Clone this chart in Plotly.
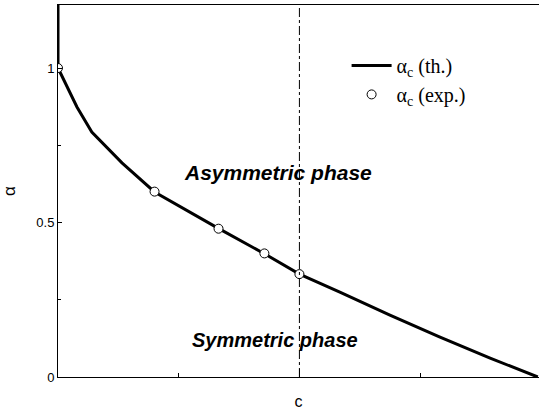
import plotly.graph_objects as go

# ---------------------------------------------------------------------------
# Data
# ---------------------------------------------------------------------------

# theoretical critical line alpha_c(c)
c_theory = [0.0, 0.0, 0.157, 0.28, 0.53, 0.80, 1.325, 1.714, 2.0, 2.335, 2.75, 3.16, 3.58, 3.975]
alpha_theory = [1.21, 1.0, 0.874, 0.793, 0.693, 0.599, 0.482, 0.398, 0.333, 0.275, 0.20, 0.13, 0.061, 0.0]

# experimental points
c_exp = [0.0, 0.80, 1.33, 1.71, 2.0]
alpha_exp = [1.0, 0.60, 0.48, 0.40, 0.333]

# position of the dash-dot transition line
c_transition = 2.0

FONT = "Liberation Sans, Arial, Helvetica, sans-serif"
SERIF = "Liberation Serif, Times New Roman, serif"

fig = go.Figure()

fig.add_trace(go.Scatter(
    x=c_theory, y=alpha_theory,
    mode="lines",
    name="α<sub>c</sub> (th.)",
    line=dict(color="black", width=3),
))

fig.add_trace(go.Scatter(
    x=c_exp, y=alpha_exp,
    mode="markers",
    name="α<sub>c</sub> (exp.)",
    marker=dict(symbol="circle", size=9, color="white",
                line=dict(color="black", width=1)),
))

# vertical dash-dot line
fig.add_shape(
    type="line", xref="x", yref="paper",
    x0=c_transition, x1=c_transition, y0=0, y1=1,
    line=dict(color="black", width=1, dash="dashdot"),
)

# phase labels
fig.add_annotation(x=1.82, y=0.663, text="<b><i>Asymmetric phase</i></b>",
                   showarrow=False, font=dict(size=21, family=FONT, color="black"))
fig.add_annotation(x=1.80, y=0.12, text="<b><i>Symmetric phase</i></b>",
                   showarrow=False, font=dict(size=20, family=FONT, color="black"))

# ---------------------------------------------------------------------------
# Layout
# ---------------------------------------------------------------------------

fig.update_layout(
    width=539, height=419,
    margin=dict(l=58, r=0, t=5, b=42),
    plot_bgcolor="white",
    paper_bgcolor="white",
    font=dict(family=FONT, size=13, color="black"),
    legend=dict(
        x=0.60, y=0.89, xanchor="left", yanchor="top",
        font=dict(family=SERIF, size=20, color="black"),
        bgcolor="rgba(0,0,0,0)",
        itemwidth=40,
    ),
)

fig.update_xaxes(
    range=[0, 3.985],
    showgrid=False, zeroline=False,
    showline=True, linecolor="black", linewidth=1, mirror=True,
    showticklabels=False,
    ticks="inside", tickvals=[2], ticklen=8, tickcolor="black",
    minor=dict(tickvals=[1, 3], ticks="inside", ticklen=4, tickcolor="black"),
    title=dict(text="c", font=dict(size=16, family=FONT), standoff=18),
)

fig.update_yaxes(
    range=[0, 1.204],
    showgrid=False, zeroline=False,
    showline=True, linecolor="black", linewidth=1,
    ticks="inside", tickvals=[0, 0.5, 1], ticktext=["0", "0.5", "1"],
    ticklen=4, tickcolor="black",
    minor=dict(tickvals=[0.25, 0.75], ticks="inside", ticklen=3, tickcolor="black"),
    tickfont=dict(size=13),
    title=dict(text="α", font=dict(size=17, family=FONT), standoff=22),
)

fig.write_html("out.html", config={"displayModeBar": False},
               post_script="document.body.style.margin='0';")
